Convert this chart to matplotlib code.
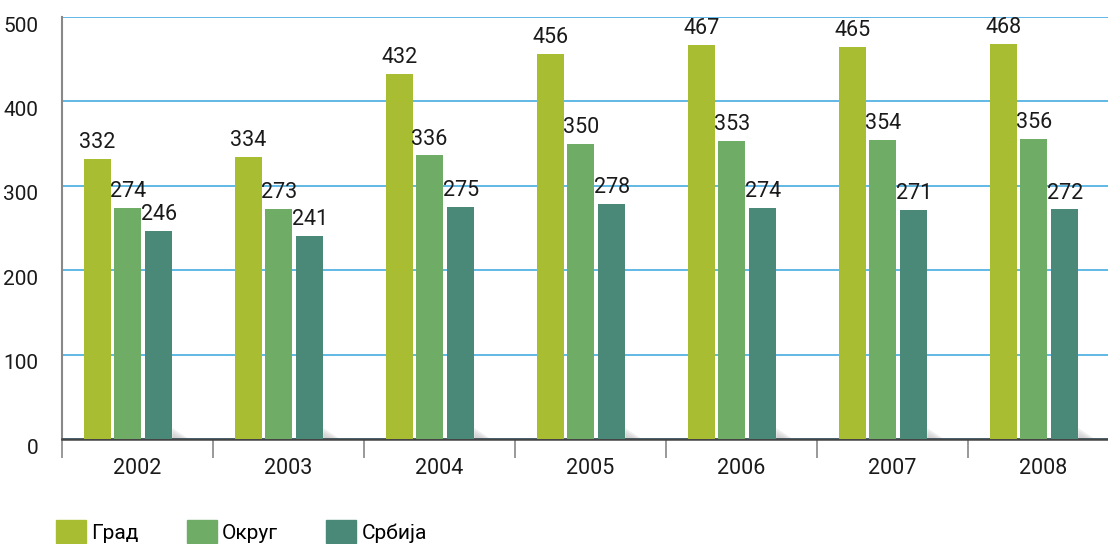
import matplotlib.pyplot as plt
from matplotlib.patches import Patch
from matplotlib.transforms import ScaledTranslation
import numpy as np

plt.rcParams['font.family'] = ['Roboto', 'DejaVu Sans']

# data
years = ['2002', '2003', '2004', '2005', '2006', '2007', '2008']
grad = [332, 334, 432, 456, 467, 465, 468]
okrug = [274, 273, 336, 350, 353, 354, 356]
srbija = [246, 241, 275, 278, 274, 271, 272]
series_names = ['Град', 'Округ', 'Србија']

colors = ['#a9bd32', '#6fad67', '#4a8878']
grid_color = '#45ade0'

fig = plt.figure(figsize=(11.08, 5.44), dpi=100)
ax = fig.add_axes([62/1108, 1-439/544, 1-62/1108, (439-17)/544])

x = np.arange(len(years))
width = 0.18
offsets = [0.235, 0.435, 0.64]

for vals, off, c in zip([grad, okrug, srbija], offsets, colors):
    ax.bar(x + off, vals, width=width, color=c, zorder=3)
    for xi, v in zip(x, vals):
        ax.text(xi + off, v + 7, str(v), ha='center', va='bottom',
                fontsize=15.5, color='#1a1a1a', zorder=4)

# soft shadow behind the last bar of each group
for xi in x:
    x0 = xi + offsets[2] + width/2
    for k, a in enumerate([0.12, 0.1, 0.08, 0.06]):
        h = 13 - k * 3
        ax.fill([x0, x0 + 0.11 - k * 0.015, x0], [0, 0, h], color='#777777',
                alpha=a, lw=0, zorder=2)

ax.set_xlim(0, (1108-62)/151)
ax.set_ylim(0, 500)

ax.set_yticks([0, 100, 200, 300, 400, 500])
ax.yaxis.grid(True, color=grid_color, lw=1.2, zorder=1)
ax.tick_params(axis='y', length=0, pad=17, labelsize=15, labelcolor='#1a1a1a')
for lab in ax.get_yticklabels():
    lab.set_transform(lab.get_transform() + ScaledTranslation(0, -7/100, fig.dpi_scale_trans))

ax.set_xticks(x, minor=True)
ax.set_xticks(x + 0.5)
ax.set_xticklabels(years)
ax.tick_params(axis='x', which='major', length=0, pad=14, labelsize=15.5, labelcolor='#1a1a1a')
ax.tick_params(axis='x', which='minor', length=14, width=1.2, color='#888888', direction='out', pad=0)

for s in ['top', 'right']:
    ax.spines[s].set_visible(False)
ax.spines['left'].set_color('#888888')
ax.spines['left'].set_linewidth(1.5)
ax.spines['bottom'].set_color('#444444')
ax.spines['bottom'].set_linewidth(1.8)

handles = [Patch(color=c) for c in colors]
fig.legend(handles, series_names, loc='lower left', bbox_to_anchor=(56/1108, 1/544),
           ncol=3, frameon=False, fontsize=15, handlelength=1.45, handleheight=1.3,
           handletextpad=0.25, columnspacing=2.3, borderpad=0, borderaxespad=0)

fig.savefig('out.png', dpi=100)
